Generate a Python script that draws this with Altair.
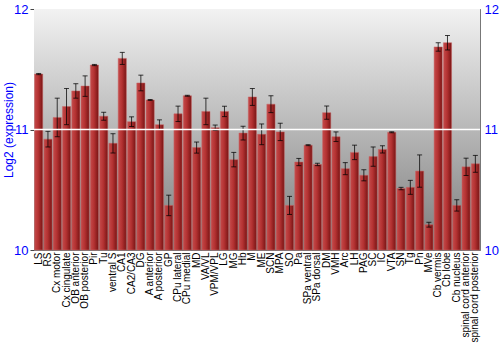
import altair as alt
import pandas as pd

regions = ["LS", "RS", "Cx motor", "Cx cingulate", "OB anterior", "OB posterior", "Pir", "Tu",
           "ventral S", "CA1", "CA2/CA3", "DG", "A anterior", "A posterior", "GP", "CPu lateral",
           "CPu medial", "MD", "VA/VL", "VPM/VPL", "LG", "MG", "Hb", "M", "ME", "SCN", "MPA", "SO",
           "Pa", "SPa ventral", "SPa dorsal", "DM", "VMH", "Arc", "LH", "PAG", "SC", "IC", "VTA",
           "SN", "Tg", "Pn", "MVe", "Cb vermis", "Cb lobe", "Cb nucleus",
           "spinal cord anterior", "spinal cord posterior"]
expression = [11.46, 10.92, 11.10, 11.19, 11.32, 11.36, 11.535, 11.11,
              10.885, 11.59, 11.065, 11.386, 11.245, 11.04, 10.37, 11.13,
              11.28, 10.85, 11.15, 11.015, 11.15, 10.75, 10.97, 11.27, 10.96, 11.21, 10.98, 10.37,
              10.73, 10.87, 10.71, 11.14, 10.94, 10.675, 10.81, 10.62, 10.775, 10.835, 10.977,
              10.51, 10.52, 10.655, 10.21, 11.685, 11.72, 10.37,
              10.69, 10.715]
error = [0.005, 0.065, 0.16, 0.15, 0.06, 0.085, 0.005, 0.033,
         0.08, 0.05, 0.04, 0.065, 0.004, 0.04, 0.085, 0.064,
         0.004, 0.046, 0.11, 0.022, 0.043, 0.06, 0.057, 0.07, 0.086, 0.07, 0.072, 0.075,
         0.03, 0.004, 0.01, 0.055, 0.04, 0.05, 0.06, 0.046, 0.08, 0.03, 0.004,
         0.01, 0.058, 0.134, 0.02, 0.035, 0.06, 0.047,
         0.072, 0.07]
y_ticks = [10, 11, 12]

df = pd.DataFrame({"region": regions, "value": expression, "err": error})
df["base"] = 10.0
df["lo"] = df["value"] - df["err"]
df["hi"] = df["value"] + df["err"]

W, H = 446, 241
blue = "#0000ff"
font = "Liberation Sans"

xscale = alt.Scale(paddingInner=0.12, paddingOuter=0.06)
xaxis = alt.Axis(labelAngle=-90, labelFontSize=10, labelFont=font, labelColor="#000000",
                 ticks=False, domain=False, labelPadding=2, labelBaseline="middle",
                 labelAlign="right", labelOverlap=False, title=None)
xenc = alt.X("region:N", sort=regions, title=None, scale=xscale, axis=xaxis)
yscale = alt.Scale(domain=[10, 12], zero=False, clamp=True, nice=False)

common_y_axis = dict(values=y_ticks, format=".0f", labelColor=blue, labelFont=font,
                     labelFontSize=13, grid=False, domainColor="#777777", labelOverlap=False,
                     labelFlush=False)

bg = alt.Chart(pd.DataFrame({"a": [0]})).mark_rect(
    color=alt.Gradient(gradient="linear", x1=0, x2=0, y1=0, y2=1,
                       stops=[alt.GradientStop(offset=0, color="#f2f2f2"),
                              alt.GradientStop(offset=1, color="#7c7c7c")])
).encode(x=alt.value(0), x2=alt.value(W), y=alt.value(0), y2=alt.value(H))

base = alt.Chart(df)

bars = base.mark_bar(
    color=alt.Gradient(gradient="linear", x1=0, x2=1, y1=0, y2=0,
                       stops=[alt.GradientStop(offset=0, color="#c44a4a"),
                              alt.GradientStop(offset=0.45, color="#b43232"),
                              alt.GradientStop(offset=1, color="#781414")]),
    stroke="#c86464", strokeWidth=0.5
).encode(
    x=xenc,
    y=alt.Y("value:Q", scale=yscale,
            axis=alt.Axis(title="Log2 (expression)", titleColor=blue, titleFont=font,
                          titleFontSize=12, titleFontWeight="normal", titleX=-19,
                          titleBaseline="bottom",
                          tickColor="#444444", tickSize=4, labelPadding=2, orient="left",
                          **common_y_axis)),
    y2="base:Q",
)

errs = base.mark_rule(color="#000000", opacity=0.75, strokeWidth=1).encode(
    x=xenc, y=alt.Y("lo:Q", scale=yscale), y2="hi:Q")
cap_lo = base.mark_tick(color="#000000", opacity=0.75, size=5, thickness=1).encode(
    x=xenc, y=alt.Y("lo:Q", scale=yscale))
cap_hi = base.mark_tick(color="#000000", opacity=0.75, size=5, thickness=1).encode(
    x=xenc, y=alt.Y("hi:Q", scale=yscale))

main = alt.layer(bg, bars, errs, cap_lo, cap_hi)

rule11 = alt.Chart(pd.DataFrame({"y": [11]})).mark_rule(color="#ffffff", strokeWidth=1.5).encode(
    y=alt.Y("y:Q", scale=yscale,
            axis=alt.Axis(title=None, ticks=False, orient="right", labelPadding=4,
                          **common_y_axis))
)

chart = alt.layer(main, rule11).resolve_scale(y="independent").properties(
    width=W, height=H,
    autosize=alt.AutoSizeParams(type="none"),
    padding={"left": 34, "top": 9, "right": 20, "bottom": 100},
    background="#ffffff",
).configure_view(stroke="#777777", strokeWidth=1)

chart.save("out.html", embed_options={"renderer": "svg", "actions": False})
